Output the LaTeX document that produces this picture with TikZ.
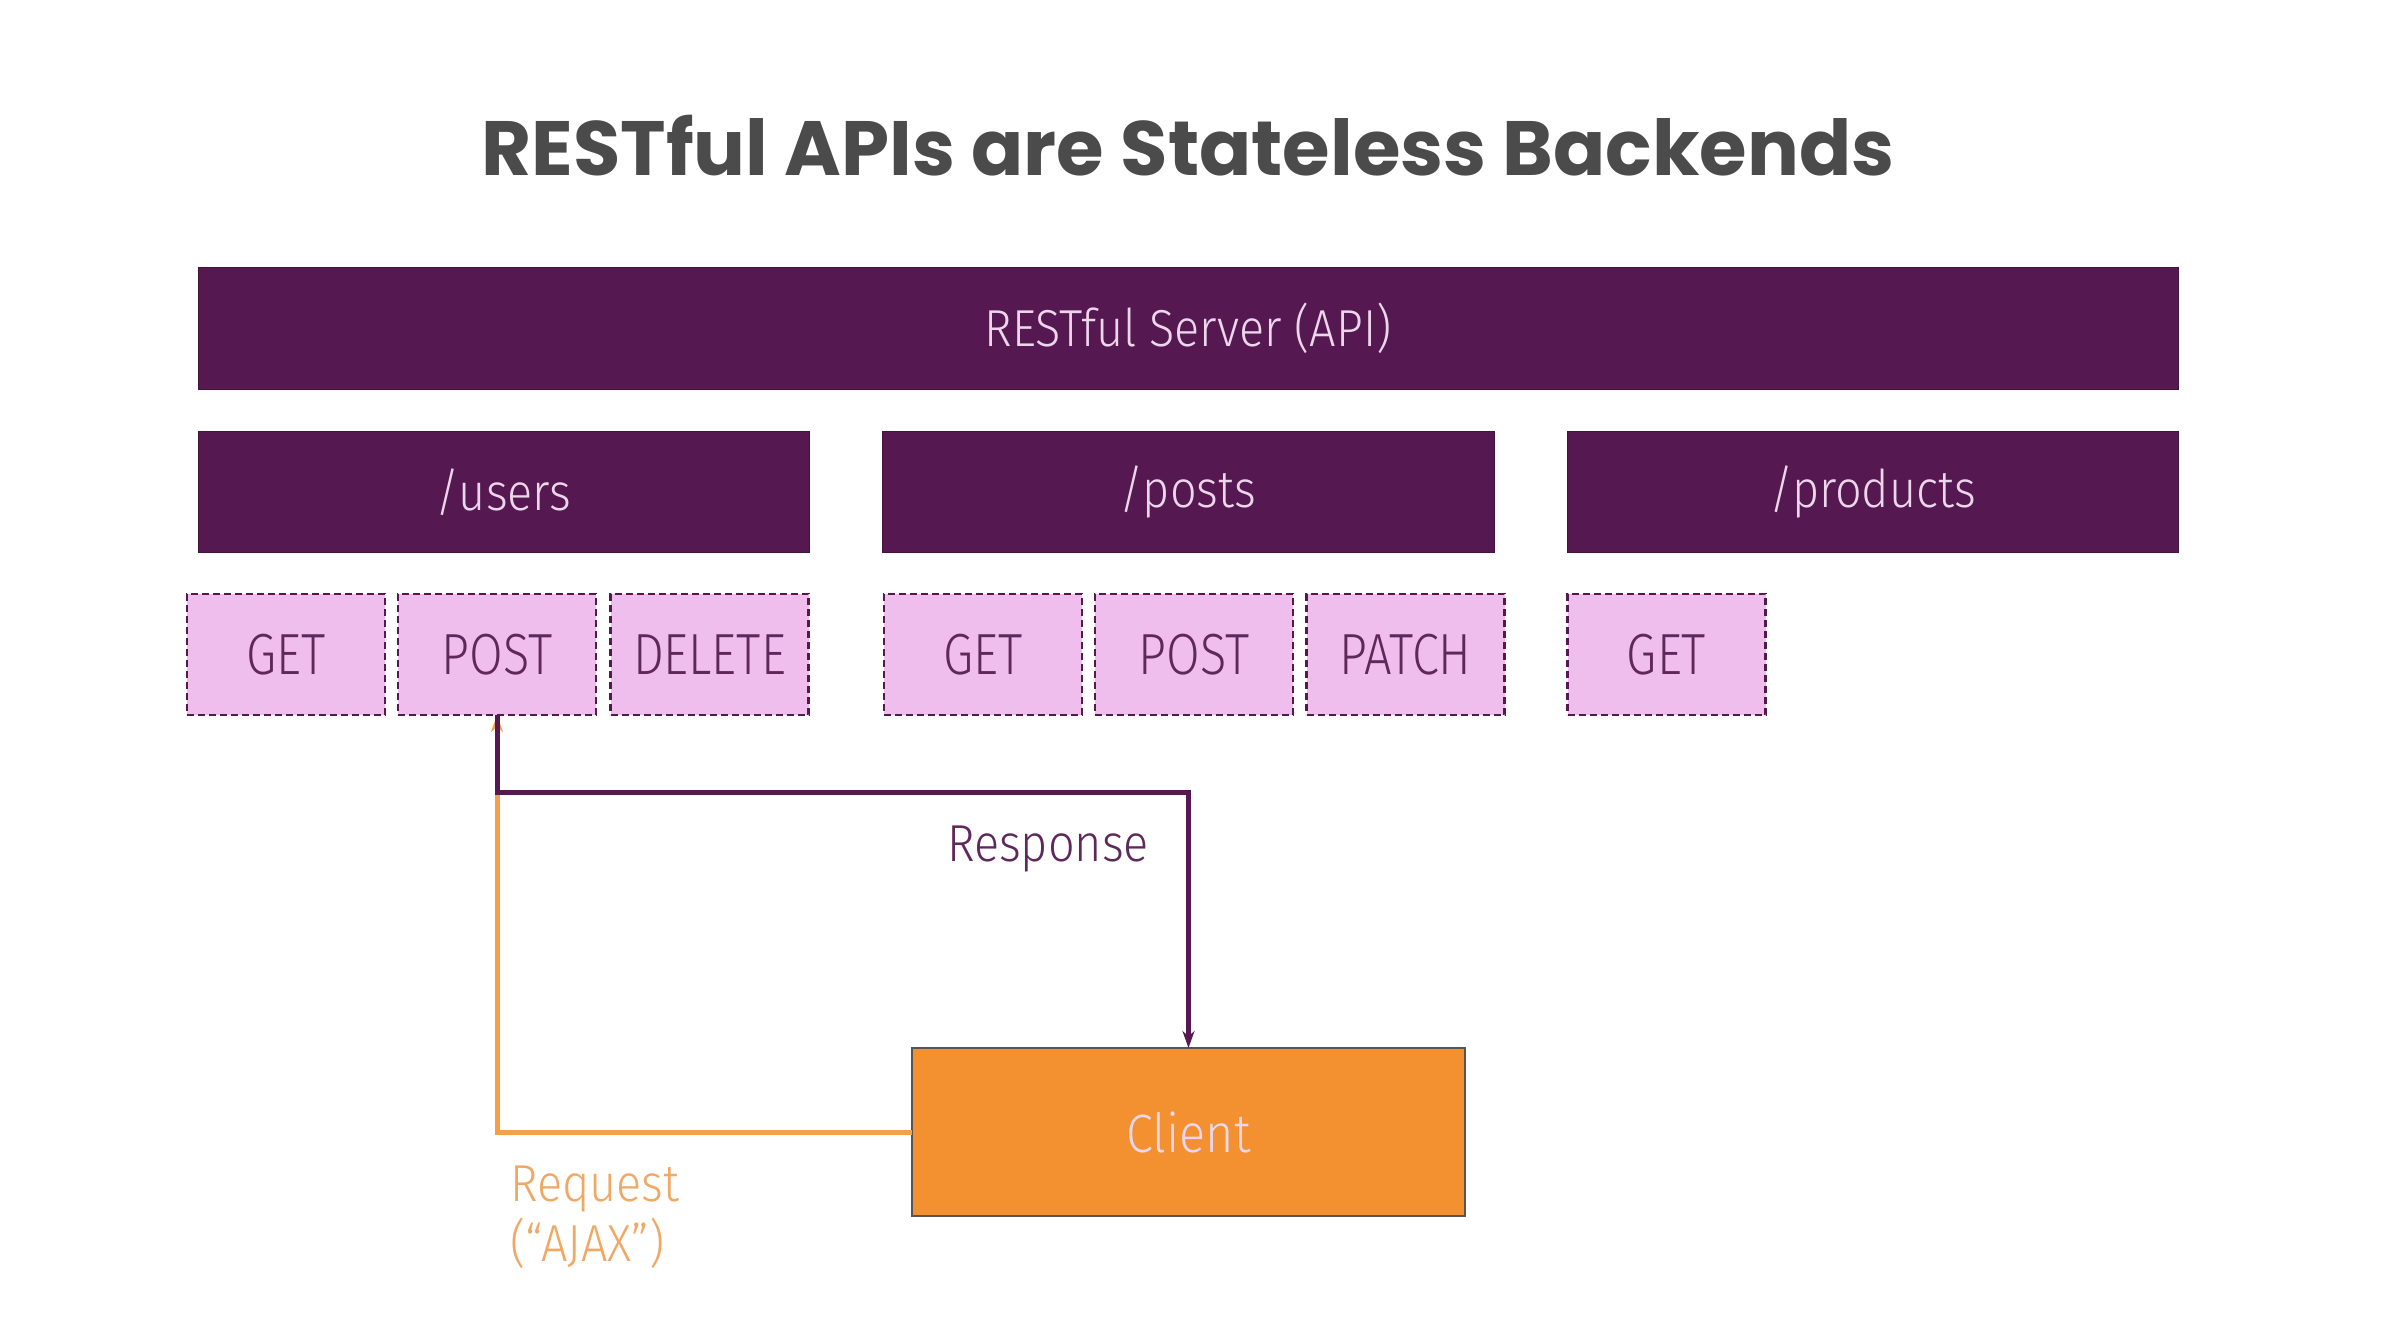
\documentclass[tikz,border=0pt]{standalone}
\usepackage{fontspec}
\setmainfont{Fira Sans}
\newfontfamily\titlefont{Poppins}
\newfontfamily\labelfont[FakeStretch=0.9]{Fira Sans Light}
\newfontfamily\methodfont[FakeStretch=0.84]{Fira Sans Light}
\usetikzlibrary{arrows.meta}

\definecolor{plum}{RGB}{86,24,80}
\definecolor{plumtext}{RGB}{94,40,90}
\definecolor{barink}{RGB}{236,214,236}
\definecolor{pinkfill}{RGB}{240,190,236}
\definecolor{clientfill}{RGB}{243,144,48}
\definecolor{clientedge}{RGB}{85,85,85}
\definecolor{reqline}{RGB}{244,160,74}
\definecolor{reqtext}{RGB}{240,168,100}
\definecolor{titleink}{RGB}{75,75,75}

\tikzset{
  bar/.style={draw=plum!80!black, line width=1pt, fill=plum, text=barink,
    inner sep=0pt, outer sep=0pt, minimum height=121pt,
    font=\labelfont\fontsize{52}{56}\selectfont},
  method/.style={draw=plum, dashed, dash pattern=on 7pt off 4pt, line width=2.2pt,
    fill=pinkfill, text=plumtext, inner sep=0pt, outer sep=0pt,
    minimum width=198pt, minimum height=121pt,
    font=\methodfont\fontsize{58}{62}\selectfont},
  clientbox/.style={draw=clientedge, line width=2.5pt, fill=clientfill, text=barink,
    inner sep=0pt, outer sep=0pt, minimum width=553pt, minimum height=168pt,
    font=\labelfont\fontsize{54}{58}\selectfont},
  resp/.style={draw=plum, line width=5pt, -{Stealth[length=17pt,width=12pt]}},
  req/.style={draw=reqline, line width=5pt, -{Stealth[length=17pt,width=12pt]}},
}

\begin{document}
\begin{tikzpicture}[x=1pt,y=-1pt]
  \useasboundingbox[fill=white] (0,0) rectangle (2402,1332);

  % heading
  \node[text=titleink, font=\titlefont\bfseries\fontsize{77}{86}\selectfont, inner sep=0pt]
    (title) at (1188,146) {RESTful APIs are Stateless Backends};

  % server and resources
  \node[bar, minimum width=1980pt] (server) at (1188,328.5) {RESTful Server (API)};
  \node[bar, minimum width=611pt] (users) at (503.5,492) {/users};
  \node[bar, minimum width=612pt] (posts) at (1188,492) {/posts};
  \node[bar, minimum width=611pt] (products) at (1872.5,492) {/products};

  % HTTP methods
  \node[method] (uget)  at (286,654.5) {GET};
  \node[method] (upost) at (497,654.5) {POST};
  \node[method] (udel)  at (709.5,654.5) {DELETE};
  \node[method] (pget)  at (983,654.5) {GET};
  \node[method] (ppost) at (1194,654.5) {POST};
  \node[method] (ppatch) at (1405.5,654.5) {PATCH};
  \node[method] (prget) at (1666.5,654.5) {GET};

  % client
  \node[clientbox] (client) at (1188.5,1132) {Client};

  % request and response
  \coordinate (respY) at (0,792);
  \draw[req] (client.west) -| (upost.south);
  \draw[resp] (upost.south) -- (upost.south |- respY) -| (client.north);

  \node[text=plumtext, font=\labelfont\fontsize{52}{56}\selectfont, inner sep=0pt]
    (resplabel) at (1048,849) {Response};
  \node[text=reqtext, font=\labelfont\fontsize{52}{60}\selectfont, inner sep=0pt,
    align=left, anchor=north west] (reqlabel) at (510,1166) {Request\\(“AJAX”)};
\end{tikzpicture}
\end{document}
